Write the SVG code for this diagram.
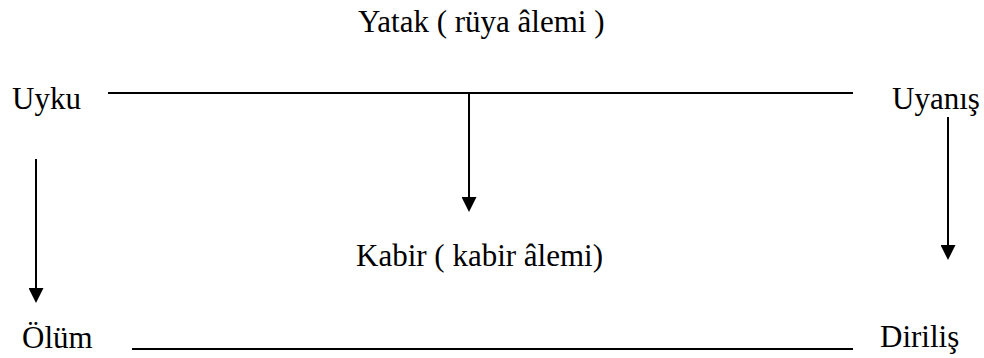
<svg xmlns="http://www.w3.org/2000/svg" width="984" height="358" viewBox="0 0 984 358">
<style>
.t{font-size:31px;fill:#000}
.ln{stroke:#000;stroke-width:2;fill:none}
</style>
<defs>
<marker id="ah" viewBox="0 0 15 15" refX="0" refY="7.5" markerWidth="15" markerHeight="15" markerUnits="userSpaceOnUse" orient="auto">
<path d="M0,0 L15,7.5 L0,15 z" fill="#000"/>
</marker>
</defs>
<rect width="984" height="358" fill="#fff"/>
<g font-family="Liberation Serif, Tinos, Times New Roman, DejaVu Serif, serif">
<g id="yatak"><text class="t" x="358" y="32">Yatak ( rüya âlemi )</text></g>
<g id="uyku"><text class="t" x="12" y="109">Uyku</text></g>
<g id="uyanis"><text class="t" x="892" y="109">Uyanış</text></g>
<g id="kabir"><text class="t" x="356" y="266">Kabir ( kabir âlemi)</text></g>
<g id="olum"><text class="t" x="22" y="348">Ölüm</text></g>
<g id="dirilis"><text class="t" x="880" y="347">Diriliş</text></g>
</g>
<g id="connectors">
<line class="ln" x1="108" y1="93" x2="853" y2="93"/>
<line class="ln" x1="132" y1="349" x2="853" y2="349"/>
<line class="ln" x1="469" y1="93" x2="469" y2="197" marker-end="url(#ah)"/>
<line class="ln" x1="36" y1="159" x2="36" y2="288" marker-end="url(#ah)"/>
<line class="ln" x1="948" y1="117" x2="948" y2="245" marker-end="url(#ah)"/>
</g>
</svg>
